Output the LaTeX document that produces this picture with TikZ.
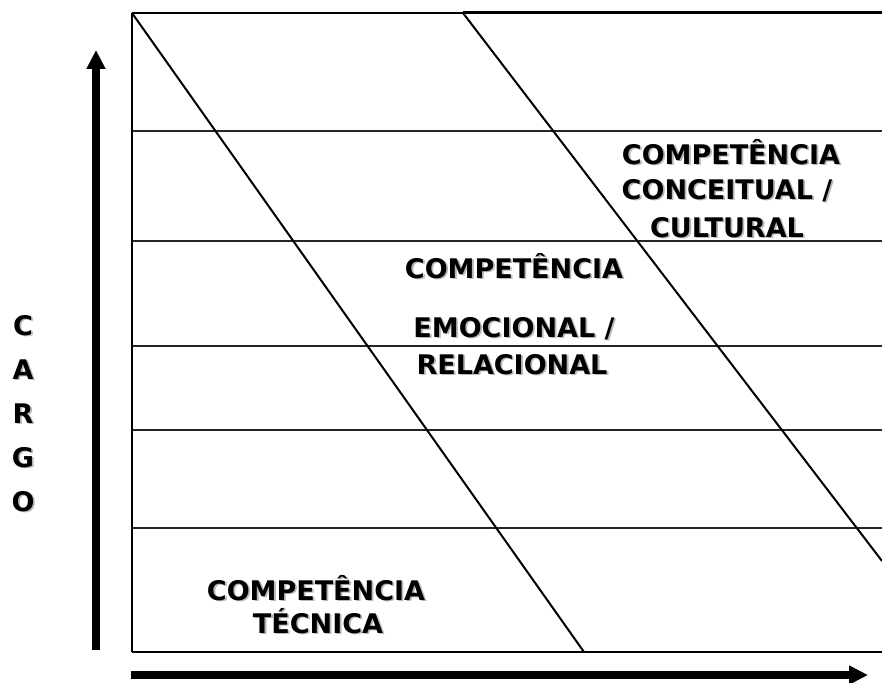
\documentclass[tikz,border=0pt]{standalone}
\usepackage{fontspec}
\setmainfont{DejaVu Sans}
\usetikzlibrary{arrows.meta}
% text with a soft grey drop shadow behind it
\newcommand\shd[1]{\makebox[0pt][l]{\kern1.8pt\raisebox{-1.8pt}{\textcolor{black!28}{#1}}}#1}
\begin{document}
\begin{tikzpicture}[x=1pt,y=-1pt,
  lbl/.style={anchor=base, inner sep=0pt, font=\fontsize{27}{32}\selectfont\bfseries},
  gridline/.style={line width=1.2pt, black!85},
  frame/.style={line width=2.4pt},
  diag/.style={line width=2pt},
  axis/.style={line width=8pt, -{Triangle[length=19pt,width=18pt]}}]
\useasboundingbox (0,0) rectangle (882,682);

% frame corners and band boundaries
\coordinate (tl) at (132,13);
\coordinate (tm) at (463,13);
\coordinate (tr) at (882,13);
\coordinate (bl) at (132,652);
\coordinate (br) at (882,652);
\coordinate (d1) at (584,652);
\coordinate (d2) at (882,561);

% horizontal bands
\foreach \yy/\nm in {131/a,241/b,346/c,430/d,528/e}{
  \coordinate (l\nm) at (132,\yy);
  \coordinate (r\nm) at (882,\yy);
  \draw[gridline] (l\nm) -- (r\nm);
}
\draw[line width=1.5pt] (tl) -- (tm);
\draw[line width=3pt] (tm) -- (tr);
\draw[frame] (tl) -- (bl);
\draw[line width=2pt] (bl) -- (br);

% diagonal boundaries between competences
\draw[diag] (tl) -- (d1);
\draw[diag] (tm) -- (d2);

% axes
\coordinate (vs) at (96,650);
\coordinate (ve) at (96,50);
\coordinate (hs) at (131,675);
\coordinate (he) at (868,675);
\draw[axis] (vs) -- (ve);
\draw[axis] (hs) -- (he);

% vertical axis label
\node[lbl] (c1) at (23,335) {\shd{C}};
\node[lbl] (c2) at (23,379) {\shd{A}};
\node[lbl] (c3) at (23,423) {\shd{R}};
\node[lbl] (c4) at (23,467) {\shd{G}};
\node[lbl] (c5) at (23,511) {\shd{O}};

% competence labels
\node[lbl] (k1) at (731,164) {\shd{COMPETÊNCIA}};
\node[lbl] (k2) at (727,199) {\shd{CONCEITUAL /}};
\node[lbl] (k3) at (727,237) {\shd{CULTURAL}};

\node[lbl] (m1) at (514,278) {\shd{COMPETÊNCIA}};
\node[lbl] (m2) at (514,337) {\shd{EMOCIONAL /}};
\node[lbl] (m3) at (512,374) {\shd{RELACIONAL}};

\node[lbl] (t1) at (316,600) {\shd{COMPETÊNCIA}};
\node[lbl] (t2) at (318,633) {\shd{TÉCNICA}};
\end{tikzpicture}
\end{document}
